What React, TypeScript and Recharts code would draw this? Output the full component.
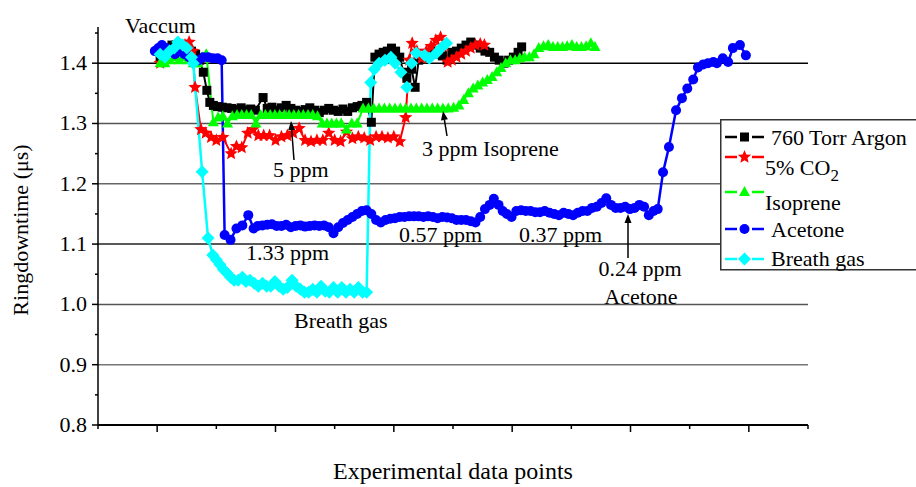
import React from 'react';
import { LineChart, Line, XAxis, YAxis, ReferenceLine, Legend } from 'recharts';

type Pt = [number, number];

const argon: Pt[] = [
  [10.5, 1.41], [11.2, 1.42], [11.8, 1.425], [12.5, 1.43], [13.2, 1.43], [13.8, 1.425], [14.5, 1.43],
  [15.2, 1.425], [15.8, 1.42], [16.5, 1.415], [17.2, 1.405], [17.8, 1.385], [18.4, 1.355], [18.9, 1.335],
  [19.5, 1.33], [20.2, 1.328], [21, 1.327], [21.8, 1.326], [22.6, 1.325], [23.4, 1.323], [24.2, 1.326],
  [25, 1.322], [25.8, 1.324], [26.6, 1.322], [27.9, 1.343], [28.6, 1.325], [29.4, 1.327], [30.2, 1.322],
  [31, 1.326], [31.8, 1.33], [32.6, 1.325], [33.4, 1.322], [34.2, 1.32], [35, 1.323], [35.8, 1.326],
  [36.6, 1.322], [37.4, 1.318], [38.2, 1.322], [39, 1.325], [39.8, 1.322], [40.6, 1.32], [41.4, 1.324],
  [42.2, 1.32], [43, 1.326], [43.8, 1.328], [44.6, 1.33], [45.4, 1.335], [46.2, 1.302], [46.8, 1.41],
  [47.5, 1.415], [48.2, 1.418], [48.9, 1.42], [49.6, 1.425], [50.3, 1.42], [51, 1.41], [51.6, 1.385],
  [52.2, 1.375], [53, 1.39], [53.6, 1.36], [54.2, 1.405], [55, 1.41], [55.8, 1.415], [56.6, 1.42],
  [57.4, 1.415], [58.2, 1.412], [59, 1.405], [59.8, 1.418], [60.6, 1.42], [61.4, 1.425], [62.2, 1.43],
  [63, 1.435], [63.8, 1.43], [64.6, 1.425], [65.4, 1.42], [66.2, 1.418], [67, 1.41], [67.8, 1.405],
  [68.6, 1.4], [69.4, 1.405], [70.2, 1.41], [71, 1.418], [71.6, 1.427],
];

const co2: Pt[] = [
  [10.5, 1.4], [11.2, 1.41], [11.9, 1.415], [12.6, 1.42], [13.3, 1.425], [14, 1.42], [14.7, 1.43],
  [15.4, 1.435], [16, 1.42], [16.4, 1.36], [17.4, 1.29], [18.2, 1.284], [19.1, 1.277], [20, 1.272],
  [21.1, 1.277], [22.5, 1.25], [23.4, 1.262], [24.3, 1.26], [25.3, 1.284], [26.2, 1.29], [27.1, 1.28],
  [28, 1.28], [29, 1.28], [30, 1.272], [31, 1.278], [32, 1.28], [33, 1.284], [34, 1.292], [35, 1.272],
  [36, 1.27], [37, 1.272], [38, 1.272], [39, 1.284], [40, 1.272], [41, 1.27], [42, 1.286], [43, 1.275],
  [44, 1.278], [45, 1.276], [46, 1.272], [47, 1.278], [48, 1.278], [49, 1.276], [50, 1.278], [51, 1.27],
  [52, 1.31], [52.6, 1.405], [53.1, 1.433], [53.9, 1.42], [54.7, 1.408], [55.5, 1.42], [56.3, 1.428],
  [57.1, 1.438], [57.9, 1.443], [58.6, 1.43], [59.1, 1.402], [59.8, 1.405], [60.6, 1.41], [61.4, 1.415],
  [62.2, 1.42], [63, 1.425], [63.8, 1.43], [64.6, 1.432], [65.3, 1.43],
];

const isoprene: Pt[] = [
  [10.5, 1.4], [11.3, 1.4], [12.1, 1.405], [12.9, 1.41], [13.7, 1.405], [14.5, 1.41], [15.3, 1.405],
  [16.1, 1.4], [16.9, 1.4], [17.6, 1.41], [18.3, 1.415], [19.5, 1.302], [20.3, 1.31], [21.1, 1.312],
  [21.9, 1.3], [22.7, 1.312], [23.5, 1.314], [24.3, 1.314], [25.1, 1.314], [25.9, 1.314], [26.7, 1.3],
  [27.5, 1.314], [28.3, 1.314], [29.1, 1.314], [29.9, 1.314], [30.7, 1.314], [31.5, 1.314], [32.3, 1.314],
  [33.1, 1.314], [33.9, 1.314], [34.7, 1.314], [35.5, 1.314], [36.3, 1.314], [37.1, 1.312], [37.9, 1.3],
  [38.7, 1.3], [39.5, 1.3], [40.3, 1.3], [41.1, 1.3], [42, 1.29], [42.9, 1.3], [43.8, 1.3], [44.8, 1.325],
  [45.7, 1.325], [46.6, 1.325], [47.5, 1.325], [48.4, 1.325], [49.3, 1.325], [50.2, 1.325], [51.1, 1.325],
  [52, 1.325], [52.9, 1.325], [53.8, 1.325], [54.7, 1.325], [55.6, 1.325], [56.5, 1.325], [57.4, 1.325],
  [58.3, 1.325], [59.2, 1.325], [60.1, 1.326], [61, 1.33], [61.8, 1.339], [62.6, 1.35], [63.4, 1.358],
  [64.2, 1.363], [65, 1.368], [65.8, 1.372], [66.6, 1.377], [67.4, 1.385], [68.1, 1.392], [68.9, 1.4],
  [69.7, 1.405], [70.5, 1.405], [71.3, 1.408], [72.1, 1.41], [72.9, 1.41], [73.7, 1.415], [74.5, 1.425],
  [75.3, 1.428], [76.1, 1.43], [76.9, 1.427], [77.7, 1.427], [78.5, 1.427], [79.3, 1.428], [80.1, 1.43],
  [80.9, 1.427], [81.7, 1.427], [82.5, 1.428], [83.3, 1.433], [84, 1.427],
];

const acetone: Pt[] = [
  [9.6, 1.42], [10.2, 1.425], [10.8, 1.43], [11.5, 1.425], [12.2, 1.42], [13, 1.415], [13.8, 1.42],
  [14.6, 1.415], [15.4, 1.41], [16.2, 1.405], [17, 1.405], [17.8, 1.41], [18.6, 1.41], [19.4, 1.408],
  [20.2, 1.408], [20.9, 1.405], [21.4, 1.115], [22.4, 1.107], [23.4, 1.126], [24.4, 1.131], [25.4, 1.148],
  [26.3, 1.126], [27, 1.13], [27.8, 1.131], [28.6, 1.132], [29.4, 1.133], [30.2, 1.13], [31, 1.13],
  [31.8, 1.132], [32.6, 1.128], [33.4, 1.13], [34.2, 1.131], [35, 1.129], [35.8, 1.13], [36.6, 1.131],
  [37.4, 1.13], [38.2, 1.131], [39, 1.128], [39.8, 1.118], [40.6, 1.128], [41.4, 1.135], [42.2, 1.14],
  [43, 1.145], [43.8, 1.15], [44.6, 1.155], [45.4, 1.156], [46.2, 1.15], [47, 1.14], [47.8, 1.136],
  [48.6, 1.14], [49.4, 1.142], [50.2, 1.143], [51, 1.145], [51.8, 1.145], [52.6, 1.146], [53.4, 1.146],
  [54.2, 1.146], [55, 1.145], [55.8, 1.146], [56.6, 1.145], [57.4, 1.143], [58.2, 1.145], [59, 1.144],
  [59.8, 1.143], [60.6, 1.14], [61.4, 1.14], [62.2, 1.14], [63, 1.138], [63.8, 1.136], [64.6, 1.145],
  [65.4, 1.158], [66.2, 1.165], [66.9, 1.175], [67.7, 1.165], [68.4, 1.155], [69.1, 1.15], [69.9, 1.145],
  [70.7, 1.155], [71.5, 1.156], [72.3, 1.155], [73.1, 1.155], [73.9, 1.153], [74.7, 1.153], [75.5, 1.155],
  [76.3, 1.152], [77.1, 1.15], [77.9, 1.148], [78.7, 1.152], [79.5, 1.15], [80.3, 1.148], [81.1, 1.152],
  [81.9, 1.155], [82.7, 1.155], [83.5, 1.16], [84.3, 1.162], [85.1, 1.168], [85.9, 1.176], [86.7, 1.165],
  [87.5, 1.16], [88.3, 1.16], [89.1, 1.162], [89.9, 1.158], [90.7, 1.16], [91.5, 1.165], [92.3, 1.162],
  [93.1, 1.148], [93.9, 1.155], [94.6, 1.158], [95.5, 1.219], [96.5, 1.261], [97.7, 1.322], [98.7, 1.342],
  [99.6, 1.358], [100.6, 1.373], [101.4, 1.393], [102.3, 1.398], [103.1, 1.4], [104, 1.402], [104.6, 1.4],
  [105.6, 1.408], [106.5, 1.402], [107.3, 1.425], [108.5, 1.43], [109.5, 1.413],
];

const breath: Pt[] = [
  [10.5, 1.415], [11.3, 1.41], [12.1, 1.42], [12.9, 1.425], [13.5, 1.435], [14.3, 1.43], [15, 1.425],
  [15.8, 1.41], [16.1, 1.4], [17.6, 1.22], [18.6, 1.11], [19.4, 1.082], [20, 1.074], [20.6, 1.066],
  [21.2, 1.058], [21.8, 1.052], [22.4, 1.045], [23, 1.04], [23.7, 1.04], [24.4, 1.045], [25, 1.038],
  [25.7, 1.04], [26.4, 1.035], [27.1, 1.03], [27.8, 1.035], [28.5, 1.03], [29.2, 1.03], [29.9, 1.038],
  [30.6, 1.03], [31.3, 1.025], [32, 1.028], [32.8, 1.04], [33.5, 1.03], [34.2, 1.025], [34.9, 1.02],
  [35.6, 1.02], [36.3, 1.025], [37, 1.02], [37.7, 1.03], [38.4, 1.022], [39.1, 1.02], [39.8, 1.028],
  [40.5, 1.02], [41.2, 1.028], [41.9, 1.02], [42.6, 1.025], [43.3, 1.02], [44, 1.028], [44.7, 1.02],
  [45.4, 1.02], [46.1, 1.368], [46.7, 1.39], [47.5, 1.4], [48.5, 1.405], [49.5, 1.41], [50.2, 1.4],
  [51.2, 1.385], [52.2, 1.36], [53, 1.4], [53.8, 1.417], [55.2, 1.413], [56, 1.408], [57.2, 1.417],
  [58, 1.425], [58.9, 1.433],
];

const xTicks = [0, 10, 20, 30, 40, 50, 60, 70, 80, 90, 100, 110, 120];
const yTicks = [0.8, 0.85, 0.9, 0.95, 1.0, 1.05, 1.1, 1.15, 1.2, 1.25, 1.3, 1.35, 1.4, 1.45];
const gridLines = [
  { y: 0.9, color: '#777' },
  { y: 1.0, color: '#555' },
  { y: 1.1, color: '#222' },
  { y: 1.2, color: '#666' },
  { y: 1.3, color: '#555' },
  { y: 1.4, color: '#000' },
];

const FONT = 'Liberation Serif, DejaVu Serif, serif';
const txt = { fontFamily: FONT };

const toRows = (pts: Pt[]) => pts.map(([x, y]) => ({ x, y }));

const starPath = (cx: number, cy: number, R: number) => {
  const r = R * 0.45;
  let d = '';
  for (let i = 0; i < 10; i++) {
    const rad = i % 2 === 0 ? R : r;
    const a = -Math.PI / 2 + (i * Math.PI) / 5;
    d += (i === 0 ? 'M' : 'L') + (cx + rad * Math.cos(a)).toFixed(2) + ',' + (cy + rad * Math.sin(a)).toFixed(2);
  }
  return d + 'Z';
};

type Shape = 'square' | 'star' | 'triangle' | 'circle' | 'diamond';

const Marker = ({ shape, cx, cy, color }: { shape: Shape; cx: number; cy: number; color: string }) => {
  switch (shape) {
    case 'square':
      return <rect x={cx - 4.5} y={cy - 4.5} width={9} height={9} fill={color} />;
    case 'star':
      return <path d={starPath(cx, cy, 7)} fill={color} />;
    case 'triangle':
      return <path d={`M${cx},${cy - 6}L${cx + 5.5},${cy + 4}L${cx - 5.5},${cy + 4}Z`} fill={color} />;
    case 'circle':
      return <circle cx={cx} cy={cy} r={5} fill={color} />;
    default:
      return <path d={`M${cx},${cy - 6.5}L${cx + 6.5},${cy}L${cx},${cy + 6.5}L${cx - 6.5},${cy}Z`} fill={color} />;
  }
};

const series = [
  { name: '760 Torr Argon', data: argon, color: '#000000', shape: 'square' as Shape, width: 2 },
  { name: '5% CO2', data: co2, color: '#ff0000', shape: 'star' as Shape, width: 2 },
  { name: 'Isoprene', data: isoprene, color: '#00ff00', shape: 'triangle' as Shape, width: 2 },
  { name: 'Acetone', data: acetone, color: '#0000ff', shape: 'circle' as Shape, width: 2.5 },
  { name: 'Breath gas', data: breath, color: '#00ffff', shape: 'diamond' as Shape, width: 2.5 },
];

const XTick = (props: any) => {
  const { x, y, payload } = props;
  const major = Math.round(payload.value) % 20 === 10;
  return <line x1={x} x2={x} y1={y} y2={y + (major ? 7 : 4)} stroke="#000" strokeWidth={1.5} />;
};

const YTick = (props: any) => {
  const { x, y, payload } = props;
  const major = Math.round(payload.value * 100) % 10 === 0;
  return (
    <g>
      <line x1={x - (major ? 6 : 3)} x2={x} y1={y} y2={y} stroke="#000" strokeWidth={1.5} />
      {major && (
        <text x={x - 11} y={y + 7} textAnchor="end" style={txt} fontSize={22} fill="#000">
          {payload.value.toFixed(1)}
        </text>
      )}
    </g>
  );
};

const legendRows = [
  { symY: 18, textY: 25.5, textX: 51 },
  { symY: 38, textY: 55.5, textX: 45 },
  { symY: 73, textY: 90.5, textX: 45 },
  { symY: 110, textY: 117.5, textX: 51 },
  { symY: 140, textY: 146.5, textX: 51 },
];

const LegendBox = () => (
  <svg width={200} height={152} style={{ display: 'block' }}>
    <rect x={0.75} y={0.75} width={210} height={150} fill="#fff" stroke="#333" strokeWidth={1.5} />
    {series.map((s, i) => {
      const r = legendRows[i];
      return (
        <g key={s.name}>
          <line x1={5} x2={17} y1={r.symY} y2={r.symY} stroke={s.color} strokeWidth={2.5} />
          <line x1={32} x2={44} y1={r.symY} y2={r.symY} stroke={s.color} strokeWidth={2.5} />
          <Marker shape={s.shape} cx={24.5} cy={r.symY} color={s.color} />
          <text x={r.textX} y={r.textY} style={txt} fontSize={22} fill="#000">
            {s.name === '5% CO2' ? (
              <>
                5% CO<tspan fontSize={17} dy={6}>2</tspan>
              </>
            ) : (
              s.name
            )}
          </text>
        </g>
      );
    })}
  </svg>
);

const Arrow = ({ x1, y1, x2, y2 }: { x1: number; y1: number; x2: number; y2: number }) => {
  const a = Math.atan2(y2 - y1, x2 - x1);
  const L = 9;
  const W = 3.5;
  const bx = x2 - L * Math.cos(a);
  const by = y2 - L * Math.sin(a);
  const px = -Math.sin(a) * W;
  const py = Math.cos(a) * W;
  return (
    <g>
      <line x1={x1} y1={y1} x2={bx} y2={by} stroke="#000" strokeWidth={1.5} />
      <path d={`M${x2},${y2}L${bx + px},${by + py}L${bx - px},${by - py}Z`} fill="#000" />
    </g>
  );
};

const notes = [
  { text: 'Vaccum', x: 125, y: 33, anchor: 'start' },
  { text: '5 ppm', x: 273, y: 177, anchor: 'start' },
  { text: '3 ppm Isoprene', x: 422, y: 156, anchor: 'start' },
  { text: '1.33 ppm', x: 246, y: 260, anchor: 'start' },
  { text: 'Breath gas', x: 294, y: 328, anchor: 'start' },
  { text: '0.57 ppm', x: 399, y: 242, anchor: 'start' },
  { text: '0.37 ppm', x: 519, y: 242, anchor: 'start' },
  { text: '0.24 ppm', x: 640, y: 276, anchor: 'middle' },
  { text: 'Acetone', x: 641, y: 304, anchor: 'middle' },
];

const arrows = [
  { x1: 294, y1: 160, x2: 291, y2: 121 },
  { x1: 447, y1: 136, x2: 443, y2: 111 },
  { x1: 628, y1: 258, x2: 628, y2: 214 },
];

export default function App() {
  return (
    <div style={{ position: 'absolute', left: 0, top: 0, width: 916, height: 487, background: '#fff', fontFamily: FONT }}>
      <LineChart width={916} height={487} margin={{ top: 27, right: 108, bottom: 22, left: 38 }}>
        <XAxis
          dataKey="x"
          type="number"
          domain={[0, 120]}
          ticks={xTicks}
          interval={0}
          tickSize={0}
          tickMargin={0}
          tick={<XTick />}
          height={40}
          axisLine={{ stroke: '#000', strokeWidth: 2 }}
          tickLine={false}
          allowDuplicatedCategory={false}
        />
        <YAxis
          type="number"
          domain={[0.8, 1.46]}
          ticks={yTicks}
          interval={0}
          tickSize={0}
          tickMargin={0}
          tick={<YTick />}
          width={60}
          axisLine={{ stroke: '#000', strokeWidth: 1.5 }}
          tickLine={false}
        />
        {gridLines.map((g) => (
          <ReferenceLine key={g.y} y={g.y} stroke={g.color} strokeWidth={1.5} />
        ))}
        {series.map((s) => (
          <Line
            key={s.name}
            name={s.name}
            data={toRows(s.data)}
            dataKey="y"
            type="linear"
            stroke={s.color}
            strokeWidth={s.width}
            isAnimationActive={false}
            activeDot={false}
            dot={(p: any) => <Marker key={`${s.name}-${p.index}`} shape={s.shape} cx={p.cx} cy={p.cy} color={s.color} />}
          />
        ))}
        <Legend
          layout="horizontal"
          verticalAlign="middle"
          align="center"
          wrapperStyle={{ left: 720, top: 119, width: 200, height: 152 }}
          content={() => <LegendBox />}
        />
      </LineChart>
      <svg
        width={916}
        height={487}
        style={{ position: 'absolute', left: 0, top: 0, pointerEvents: 'none', fontFamily: FONT }}
      >
        {notes.map((n) => (
          <text key={n.text} x={n.x} y={n.y} style={txt} fontSize={22} textAnchor={n.anchor as any} fill="#000">
            {n.text}
          </text>
        ))}
        {arrows.map((a, i) => (
          <Arrow key={i} {...a} />
        ))}
        <text x={453} y={479} style={txt} fontSize={24} textAnchor="middle" fill="#000">
          Experimental data points
        </text>
        <text x={0} y={0} style={txt} fontSize={22} textAnchor="middle" transform="translate(28,230) rotate(-90)" fill="#000">
          Ringdowntime (μs)
        </text>
      </svg>
    </div>
  );
}
